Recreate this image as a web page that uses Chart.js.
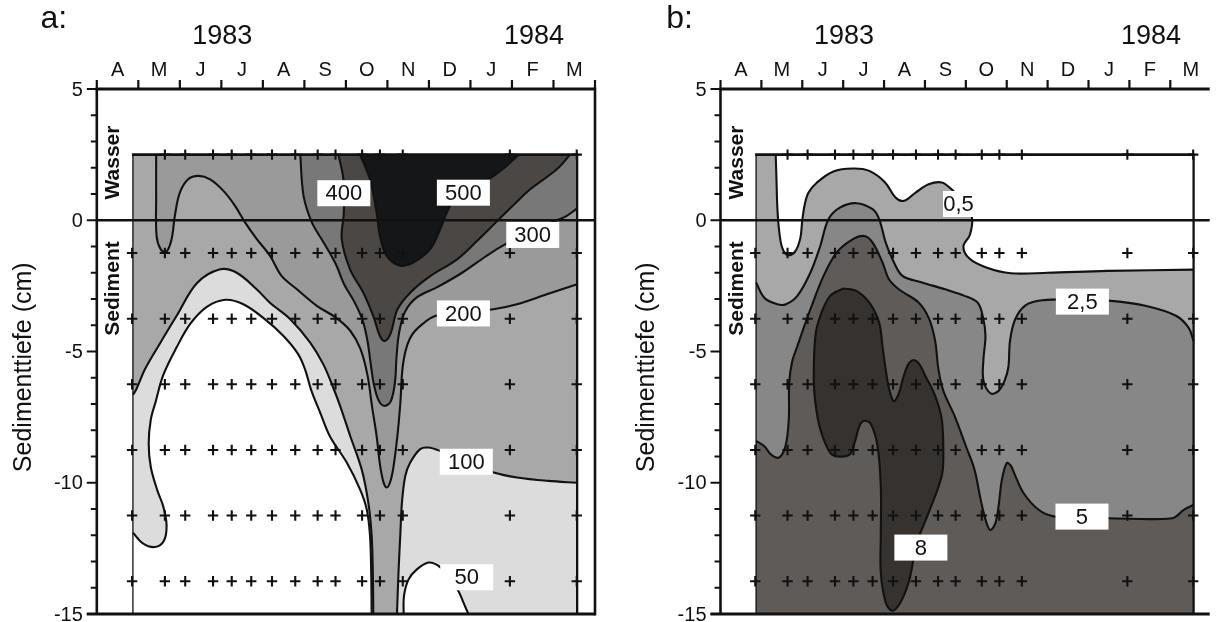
<!DOCTYPE html>
<html>
<head>
<meta charset="utf-8">
<script src="https://cdn.jsdelivr.net/npm/chart.js@4.4.1/dist/chart.umd.min.js"></script>
<style>
  html, body { margin: 0; padding: 0; background: #fff; }
  #wrap { position: relative; width: 1217px; height: 622px; overflow: hidden; }
  canvas { position: absolute; top: 0; }
  #panelA { left: 0; }
  #panelB { left: 610px; }
</style>
</head>
<body>
<div id="wrap">
  <canvas id="panelA" width="610" height="622"></canvas>
  <canvas id="panelB" width="607" height="622"></canvas>
</div>
<script>
// Sampling dates (months after 1 April 1983) and sampled depths (cm)
const sampleMonths = [0.85, 1.64, 2.13, 2.8, 3.25, 3.72, 4.22, 4.78, 5.32, 5.75, 6.39, 6.82, 7.37, 9.95, 11.56];
const sampleDepths = [2.5, -1.25, -3.75, -6.25, -8.75, -11.25, -13.75];

const monthLetters = ['A', 'M', 'J', 'J', 'A', 'S', 'O', 'N', 'D', 'J', 'F', 'M'];
const yearLabels = ['1983', '1984'];
const yearMonths = [3.02, 10.53];
const depthTicks = [5, 0, -5, -10, -15];

// extent of the sampled block
const blockLeft = 0.87, blockRight = 11.57, blockTop = 2.5, blockBottom = -15;

// Panel a: isolines [month, depth]
const a50Dome = [[0.87,-11.9],[1.1,-12.3],[1.4,-12.45],[1.62,-12.2],[1.68,-11.6],[1.6,-10.9],[1.46,-10.3],[1.3,-9.4],[1.25,-8.5],[1.3,-7.6],[1.42,-6.9],[1.6,-5.9],[1.92,-4.85],[2.25,-3.95],[2.65,-3.3],[3.1,-3.03],[3.53,-3.2],[4.01,-3.72],[4.49,-4.4],[4.85,-5.1],[5.02,-5.7],[5.16,-6.45],[5.38,-7.33],[5.62,-8.25],[6.02,-9.23],[6.34,-10.25],[6.5,-11.0],[6.58,-12.0],[6.61,-13.5],[6.62,-15]];
const a50Bubble = [[7.39,-15],[7.4,-14.3],[7.51,-13.68],[7.71,-13.3],[7.99,-13.04],[8.23,-13.17],[8.5,-13.6],[8.71,-14.12],[8.83,-14.56],[8.95,-15]];
const a100Left = [[0.87,-6.65],[0.95,-6.45],[1.16,-5.68],[1.5,-4.75],[1.92,-3.65],[2.41,-2.4],[2.97,-1.87],[3.37,-2.0],[3.85,-2.63],[4.17,-3.14],[4.66,-3.77],[5.14,-4.66],[5.46,-5.5],[5.7,-6.4],[5.86,-7.07],[6.1,-8.2],[6.38,-9.49],[6.54,-10.76],[6.62,-12.0],[6.65,-13.5],[6.66,-15]];
const a100Right = [[7.23,-15],[7.27,-13.3],[7.31,-12.0],[7.35,-10.76],[7.43,-9.74],[7.55,-9.23],[7.79,-8.72],[7.99,-8.66],[8.27,-8.79],[8.9,-9.2],[9.56,-9.61],[10.12,-9.8],[10.87,-9.93],[11.57,-10.0]];
const a200 = [[1.43,2.5],[1.43,0.93],[1.44,-0.6],[1.54,-1.11],[1.67,-1.21],[1.8,-0.73],[1.88,0.17],[2.0,1.05],[2.2,1.56],[2.45,1.69],[2.73,1.56],[3.05,1.12],[3.33,0.55],[3.57,-0.08],[3.85,-0.71],[4.17,-1.35],[4.45,-2.12],[4.82,-2.63],[5.3,-3.26],[5.75,-3.7],[6.1,-4.2],[6.35,-4.9],[6.52,-5.9],[6.63,-7.1],[6.74,-8.22],[6.82,-9.3],[6.9,-9.95],[6.98,-10.18],[7.06,-10.0],[7.14,-9.45],[7.24,-8.22],[7.31,-7.0],[7.36,-5.7],[7.45,-4.9],[7.6,-4.35],[7.85,-3.95],[8.15,-3.65],[8.8,-3.5],[9.55,-3.39],[10.12,-3.2],[10.84,-2.82],[11.57,-2.44]];
const a300 = [[4.9,2.5],[4.98,0.93],[5.18,-0.08],[5.46,-0.84],[5.75,-1.65],[5.96,-2.45],[6.2,-3.1],[6.4,-3.8],[6.52,-4.6],[6.6,-5.5],[6.68,-6.3],[6.8,-6.9],[6.94,-7.07],[7.08,-6.9],[7.18,-6.2],[7.22,-5.2],[7.28,-4.3],[7.42,-3.5],[7.7,-2.95],[8.2,-2.55],[8.8,-2.0],[9.35,-1.4],[9.8,-0.95],[10.4,-0.5],[11.0,-0.05],[11.3,0.15],[11.57,0.45]];
const a400 = [[5.82,2.5],[5.94,1.56],[5.95,0.29],[5.9,-0.72],[6.1,-1.87],[6.42,-2.76],[6.66,-3.65],[6.82,-4.41],[6.94,-4.6],[7.08,-4.3],[7.24,-3.4],[7.55,-2.76],[8.03,-2.13],[8.67,-1.5],[9.15,-0.8],[9.6,-0.1],[10.05,0.6],[10.44,1.18],[11.08,1.94],[11.4,2.5]];
const a500 = [[6.34,2.5],[6.58,1.56],[6.74,0.29],[6.82,-0.6],[6.98,-1.35],[7.3,-1.73],[7.63,-1.6],[8.03,-1.1],[8.27,-0.35],[8.43,0.29],[8.65,0.9],[9.1,1.35],[9.47,1.6],[9.87,2.07],[10.16,2.5]];

// Panel b: isolines [month, depth]
const b05 = [[1.35,2.5],[1.37,1.5],[1.39,0.5],[1.43,-0.34],[1.51,-1.05],[1.65,-1.33],[1.82,-1.2],[1.95,-0.7],[2.0,0.0],[2.06,0.6],[2.15,1.05],[2.36,1.44],[2.76,1.86],[3.24,1.97],[3.64,1.88],[4.02,1.45],[4.28,0.87],[4.49,0.74],[4.77,1.05],[5.09,1.37],[5.41,1.44],[5.65,1.18],[5.95,0.7],[6.15,0.1],[6.1,-0.55],[5.94,-1.0],[6.08,-1.45],[6.5,-1.8],[7.1,-2.02],[8.0,-2.0],[9.46,-1.93],[11.57,-1.88]];
const b25 = [[0.87,-2.37],[1.07,-2.95],[1.39,-3.2],[1.6,-3.2],[1.88,-2.88],[2.2,-1.99],[2.44,-0.98],[2.64,0.04],[2.92,0.48],[3.32,0.65],[3.72,0.42],[3.88,0.04],[4.04,-0.85],[4.24,-1.6],[4.45,-2.12],[4.93,-2.37],[5.49,-2.63],[5.97,-2.88],[6.29,-3.14],[6.42,-3.7],[6.48,-4.4],[6.43,-5.3],[6.43,-6.1],[6.61,-6.6],[6.8,-6.5],[6.95,-6.1],[7.04,-5.6],[7.08,-4.6],[7.2,-3.8],[7.45,-3.25],[7.87,-3.05],[8.8,-3.02],[9.55,-3.07],[10.39,-3.26],[11.14,-3.64],[11.45,-4.1],[11.57,-4.6]];
const b5 = [[0.87,-8.41],[1.07,-8.6],[1.23,-8.92],[1.43,-9.04],[1.59,-8.6],[1.67,-7.58],[1.68,-6.2],[1.75,-5.4],[1.88,-4.79],[2.2,-3.39],[2.52,-2.12],[2.84,-1.23],[3.24,-0.72],[3.52,-0.6],[3.72,-0.85],[3.96,-1.6],[4.12,-2.25],[4.36,-2.63],[4.85,-3.14],[5.1,-3.75],[5.25,-4.6],[5.33,-5.68],[5.45,-6.5],[5.73,-7.47],[6.0,-8.6],[6.21,-9.49],[6.37,-10.7],[6.5,-11.5],[6.6,-11.8],[6.72,-11.55],[6.8,-10.9],[6.88,-9.9],[7.0,-9.25],[7.1,-9.35],[7.2,-9.7],[7.41,-10.39],[7.78,-11.03],[8.15,-11.28],[8.8,-11.35],[9.46,-11.35],[11.05,-11.35],[11.33,-11.03],[11.57,-10.84]];
const b8 = [[3.0,-2.6],[3.32,-2.69],[3.64,-3.14],[3.88,-3.9],[3.96,-4.79],[4.04,-5.68],[4.12,-6.4],[4.24,-6.9],[4.36,-6.6],[4.45,-6.1],[4.57,-5.55],[4.7,-5.33],[4.85,-5.45],[5.01,-5.93],[5.25,-6.69],[5.41,-7.58],[5.45,-8.85],[5.41,-9.74],[5.09,-11.14],[4.8,-12.28],[4.72,-12.91],[4.6,-13.8],[4.4,-14.56],[4.2,-14.88],[4.04,-14.56],[3.92,-13.42],[3.92,-12.02],[3.92,-10.12],[3.84,-8.6],[3.68,-7.77],[3.52,-7.64],[3.4,-7.83],[3.28,-8.47],[3.16,-8.92],[2.88,-9.0],[2.68,-8.85],[2.44,-7.96],[2.32,-6.95],[2.28,-6.06],[2.32,-4.41],[2.44,-3.65],[2.68,-2.88],[3.0,-2.6]];

// isoline labels
const labelTextA = ['400', '500', '300', '200', '100', '50'];
const labelMonthA = [5.95, 8.83, 10.5, 8.83, 8.9, 8.91];
const labelDepthA = [1.03, 1.05, -0.56, -3.55, -9.2, -13.6];
const labelTextB = ['0,5', '2,5', '5', '8'];
const labelMonthB = [5.82, 8.85, 8.84, 4.9];
const labelDepthB = [0.62, -3.1, -11.29, -12.47];
const labelBoxB = [31, 53, 53, 53];

const INK = '#111';
const FONT = 'Arial, "Liberation Sans", sans-serif';
Chart.defaults.font.family = FONT;

function xy(list) {
    return list.map(p => ({ x: p[0], y: p[1] }));
}

// join isolines and block corners into one closed outline; the doubled
// end points keep the curve from bulging past the block edges
function shape(...parts) {
    const out = [];
    parts.forEach(p => { out.push(p[0], ...p, p[p.length - 1]); });
    return xy(out);
}

function fillSet(data, color, order, tension) {
    return {
        data: data, showLine: true, fill: 'shape',
        backgroundColor: color, borderColor: color, borderWidth: 0,
        pointRadius: 0, tension: tension === undefined ? 0.35 : tension, order: order
    };
}

function isoSet(line) {
    return {
        data: xy(line), showLine: true, fill: false,
        borderColor: INK, borderWidth: 2.1, pointRadius: 0, tension: 0.35, order: 2
    };
}

function crossSet() {
    const data = [];
    sampleDepths.forEach((d, r) => {
        sampleMonths.forEach((m, c) => {
            if (r === 0 && c === 0) return;
            data.push({ x: m, y: d });
        });
    });
    return {
        data: data, showLine: false, pointStyle: 'cross', pointRadius: 5.2,
        pointBorderWidth: 2.1, pointBorderColor: INK, borderColor: INK, order: 1
    };
}

const blockRect = [[blockLeft, blockTop], [blockRight, blockTop], [blockRight, blockBottom], [blockLeft, blockBottom]];

function makeFrame(cfg) {
    return {
        id: 'frame',
        afterDatasetsDraw(chart) {
            const ctx = chart.ctx, a = chart.chartArea;
            const X = v => chart.scales.x.getPixelForValue(v);
            const Y = v => chart.scales.y.getPixelForValue(v);
            const seg = (x1, y1, x2, y2, w) => {
                ctx.lineWidth = w;
                ctx.beginPath(); ctx.moveTo(x1, y1); ctx.lineTo(x2, y2); ctx.stroke();
            };
            ctx.save();
            ctx.strokeStyle = INK;
            ctx.fillStyle = INK;

            // outline of the sampled block and the sediment surface
            seg(X(blockLeft), Y(blockTop), X(blockLeft), Y(blockBottom), 1.3);
            seg(X(blockLeft) - 1, Y(blockTop), X(blockRight) + 1, Y(blockTop), 2.7);
            seg(X(blockRight), Y(blockTop), X(blockRight), Y(blockBottom), 2.3);
            seg(a.left, Y(0), a.right, Y(0), 2.7);

            // isoline labels
            ctx.font = '22px ' + FONT;
            ctx.textAlign = 'center';
            ctx.textBaseline = 'middle';
            cfg.labels.forEach((t, i) => {
                const cx = X(cfg.months[i]), cy = Y(cfg.depths[i]);
                const w = cfg.boxes ? cfg.boxes[i] : 53;
                ctx.fillStyle = '#fff';
                ctx.fillRect(cx - w / 2, cy - 13, w, 26);
                ctx.fillStyle = INK;
                ctx.fillText(t, cx, cy + 1);
            });

            // frame
            seg(a.left - 1.3, Y(5), a.right, Y(5), 2.8);
            seg(a.left, Y(5), a.left, Y(-15), 2.6);
            seg(a.left - 10, Y(-15), a.right, Y(-15), 3);
            if (cfg.rightAxis) seg(X(12), Y(5) - 1.4, X(12), Y(-15) + 1.5, 2.6);

            // month ticks and letters on top
            for (let m = 0; m <= 12; m++) {
                if (X(m) <= a.right + 1) seg(X(m), Y(5), X(m), Y(5) - 9, 2.2);
            }
            ctx.font = '20px ' + FONT;
            monthLetters.forEach((t, i) => ctx.fillText(t, X(i + 0.5), Y(5) - 19));
            ctx.font = '27px ' + FONT;
            yearLabels.forEach((t, i) => ctx.fillText(t, X(yearMonths[i]), Y(5) - 52));
            ctx.font = '32px ' + FONT;
            ctx.textBaseline = 'alphabetic';
            ctx.fillText(cfg.letter, a.left + cfg.letterDx, 28);

            // depth ticks and labels
            for (let d = -15; d <= 5; d++) {
                const len = d % 5 === 0 ? 10 : 6;
                seg(a.left - len, Y(d), a.left, Y(d), 2);
            }
            ctx.font = '20px ' + FONT;
            ctx.textAlign = 'right';
            ctx.textBaseline = 'middle';
            depthTicks.forEach(d => ctx.fillText(String(d), a.left - 14, Y(d) + 1));

            // rotated texts
            const vtext = (t, x, y, font) => {
                ctx.save();
                ctx.translate(x, y);
                ctx.rotate(-Math.PI / 2);
                ctx.font = font;
                ctx.textAlign = 'center';
                ctx.textBaseline = 'middle';
                ctx.fillText(t, 0, 0);
                ctx.restore();
            };
            vtext('Sedimenttiefe (cm)', a.left - 73, Y(-5.6), '25px ' + FONT);
            vtext('Wasser', X(0.4), Y(2.2), 'bold 21px ' + FONT);
            vtext('Sediment', X(0.4), Y(-2.6), 'bold 21px ' + FONT);
            ctx.restore();
        }
    };
}

function makeChart(id, datasets, xMax, padLeft, padRight, frameCfg) {
    return new Chart(document.getElementById(id), {
        type: 'scatter',
        data: { datasets: datasets },
        options: {
            responsive: false,
            animation: false,
            events: [],
            layout: { padding: { left: padLeft, right: padRight, top: 89, bottom: 8 } },
            scales: {
                x: { type: 'linear', min: 0, max: xMax, display: false },
                y: { type: 'linear', min: -15, max: 5, display: false }
            },
            plugins: { legend: { display: false }, tooltip: { enabled: false } }
        },
        plugins: [makeFrame(frameCfg)]
    });
}

// Panel a: six concentration classes
makeChart('panelA', [
    fillSet(xy(blockRect), '#dcdcdc', 30, 0),
    fillSet(shape(a50Dome, [[blockLeft, blockBottom]]), '#ffffff', 29),
    fillSet(shape(a50Bubble), '#ffffff', 28),
    fillSet(shape(a100Left, a100Right, [[blockRight, blockTop]], [[blockLeft, blockTop]]), '#a8a8a8', 27),
    fillSet(shape(a200, [[blockRight, blockTop]]), '#9a9a9a', 26),
    fillSet(shape(a300, [[blockRight, blockTop]]), '#787878', 25),
    fillSet(shape(a400), '#4b4745', 24),
    fillSet(shape(a500), '#151618', 23),
    isoSet(a50Dome), isoSet(a50Bubble), isoSet(a100Left), isoSet(a100Right),
    isoSet(a200), isoSet(a300), isoSet(a400), isoSet(a500),
    crossSet()
], 12, 96.8, 15, {
    letter: 'a:', letterDx: -43, rightAxis: true,
    labels: labelTextA, months: labelMonthA, depths: labelDepthA
});

// Panel b: four classes, right edge cut off by the page
makeChart('panelB', [
    fillSet(xy(blockRect), '#a8a8a8', 30, 0),
    fillSet(shape(b05, [[blockRight, blockTop]]), '#ffffff', 29),
    fillSet(shape(b25, [[blockRight, blockBottom]], [[blockLeft, blockBottom]]), '#878787', 28),
    fillSet(shape(b5, [[blockRight, blockBottom]], [[blockLeft, blockBottom]]), '#5f5b59', 27),
    fillSet(shape(b8), '#36322f', 26),
    isoSet(b05), isoSet(b25), isoSet(b5), isoSet(b8),
    crossSet()
], (1217 - 720.5) / 41.5, 110.5, 0, {
    letter: 'b:', letterDx: -41, rightAxis: false,
    labels: labelTextB, months: labelMonthB, depths: labelDepthB, boxes: labelBoxB
});
</script>
</body>
</html>
